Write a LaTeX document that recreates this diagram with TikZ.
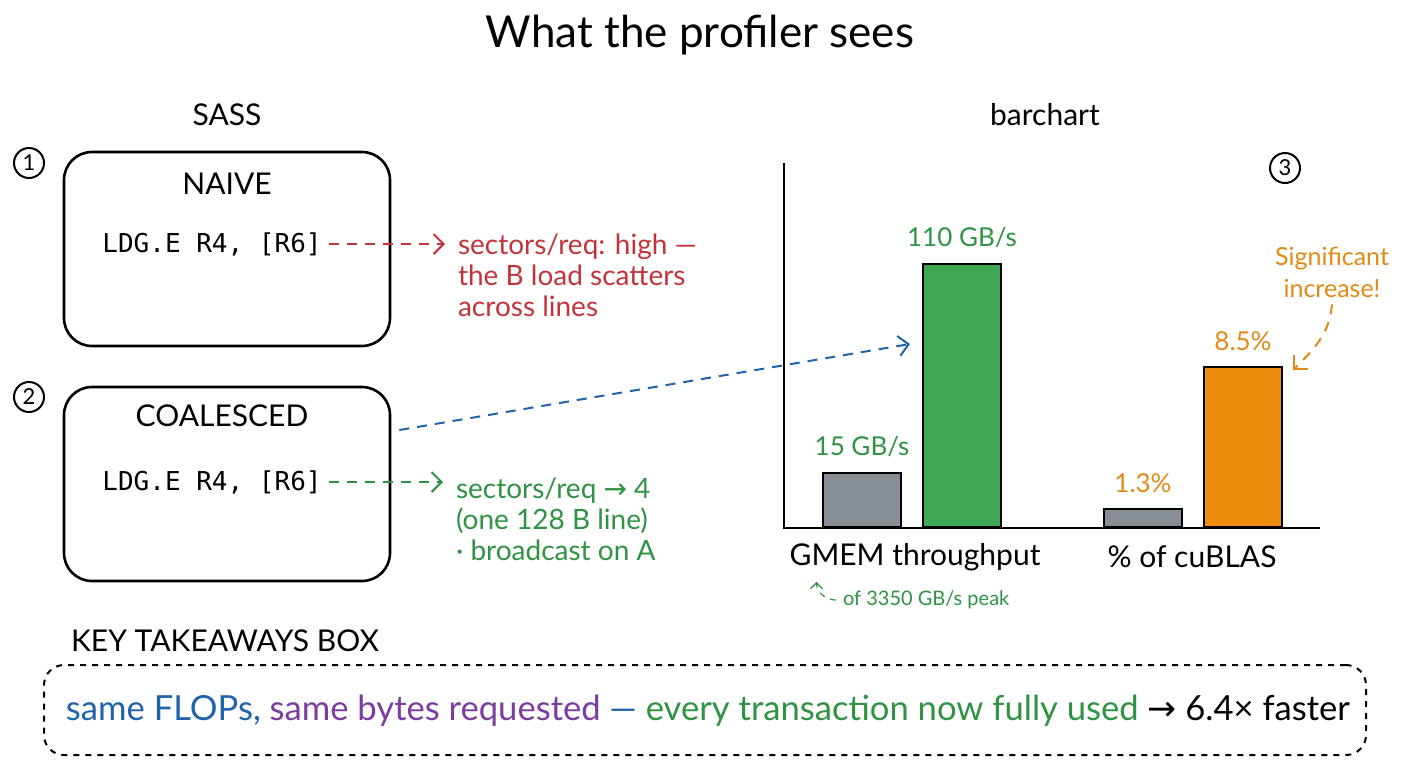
\documentclass[tikz,border=0pt]{standalone}
\usepackage{fontspec}
\setmainfont{Lato}
\setmonofont{DejaVu Sans Mono}
\newfontfamily\arrowfont{DejaVu Sans}
\usepackage{xcolor}
\usepackage{tikz}
\usetikzlibrary{arrows.meta,positioning,calc}
\definecolor{inkred}{HTML}{C3343A}
\definecolor{inkgreen}{HTML}{2F9343}
\definecolor{inkblue}{HTML}{2163AB}
\definecolor{inkpurple}{HTML}{7B3D9E}
\definecolor{inkorange}{HTML}{E38A16}
\definecolor{bargreen}{HTML}{3FA855}
\definecolor{bargray}{HTML}{878E96}
\definecolor{barorange}{HTML}{F08C0E}
\newcommand{\toarrow}{{\arrowfont →}}

\begin{document}
\begin{tikzpicture}[x=0.5pt,y=-0.5pt,>={Straight Barb[length=5pt,width=10pt]},
  sassbox/.style={draw,line width=1.3pt,rounded corners=14pt,minimum width=163pt,minimum height=97pt},
  stepnum/.style={draw,circle,line width=1pt,minimum size=15pt,inner sep=0pt,font=\fontsize{11}{13}\selectfont},
  heading/.style={font=\fontsize{15}{18}\selectfont},
  code/.style={font=\ttfamily\fontsize{13}{16}\selectfont},
  note/.style={align=left,anchor=west,font=\fontsize{14}{15.5}\selectfont},
  bar/.style={draw,line width=1pt,anchor=south,minimum width=39pt},
  barlabel/.style={font=\fontsize{13}{16}\selectfont},
  flow/.style={->,dash pattern=on 5pt off 4pt,line width=1pt}]
  \fill[white] (0,0) rectangle (1408,768);
  \useasboundingbox (0,0) rectangle (1408,768);

  \node[font=\fontsize{22}{26}\selectfont] (title) at (700,35) {What the profiler sees};
  \node[heading] (sass) at (227,115) {SASS};
  \node[heading] (chart) at (1045,115) {barchart};

  \node[stepnum] (one) at (29,163) {1};
  \node[stepnum] (two) at (29,397) {2};
  \node[stepnum] (three) at (1285,168) {3};

  % SASS listings
  \node[sassbox] (naive) at (227,249) {};
  \node[heading] (naivename) at (227,184) {NAIVE};
  \node[code] (ldgnaive) at (212,244) {LDG.E R4, [R6]};
  \node[note,text=inkred] (scatter) at (451,275) {sectors/req: high —\\the B load scatters\\across lines};

  \node[sassbox] (coal) at (227,484) {};
  \node[heading] (coalname) at (222,416) {COALESCED};
  \node[code] (ldgcoal) at (212,482) {LDG.E R4, [R6]};
  \node[note,text=inkgreen] (sectors) at (449,519) {sectors/req \toarrow{} 4\\(one 128 B line)\\· broadcast on A};

  \draw[flow,inkred] (ldgnaive.east) -- ([xshift=-3pt]scatter.west |- ldgnaive.east);
  \draw[flow,inkgreen] (ldgcoal.east) -- ([xshift=-3pt]sectors.west |- ldgcoal.east);

  % bar chart
  \coordinate (origin) at (784,528);
  \draw[line width=0.9pt] (784,163) -- (origin) -- (1320,528);
  \node[bar,fill=bargray,minimum height=27pt] (b1) at (862,528) {};
  \node[bar,fill=bargreen,minimum height=131.5pt] (b2) at (962,528) {};
  \node[bar,fill=bargray,minimum height=9pt] (b3) at (1143,528) {};
  \node[bar,fill=barorange,minimum height=80pt] (b4) at (1243,528) {};

  \node[barlabel,text=inkgreen,above=4pt of b1] (b1val) {15 GB/s};
  \node[barlabel,text=inkgreen,above=4pt of b2] (b2val) {110 GB/s};
  \node[barlabel,text=inkorange,above=4pt of b3] (b3val) {1.3\%};
  \node[barlabel,text=inkorange,above=4pt of b4] (b4val) {8.5\%};

  \node[heading] (gmem) at (915,557) {GMEM throughput};
  \node[heading] (cublas) at (1192,557) {\% of cuBLAS};
  \node[font=\fontsize{10}{12}\selectfont,text=inkgreen,anchor=west] (peak) at (836,600) {of 3350 GB/s peak};
  \draw[->,dashed,inkgreen,line width=0.6pt,>={Straight Barb[length=3pt,width=6pt]}] (peak.west) to[out=180,in=-90] ([xshift=17pt,yshift=-2pt]gmem.south west);

  \node[text=inkorange,align=center,font=\fontsize{12.5}{16}\selectfont] (signif) at (1332,272) {Significant\\increase!};
  \draw[flow,inkorange] (signif.south) to[out=-95,in=45] ([xshift=5pt,yshift=-2pt]b4.north east);

  \coordinate (gmemtip) at (910,344);
  \draw[flow,inkblue] ([xshift=4pt,yshift=27pt]coal.east) -- (gmemtip);

  % takeaways
  \node[heading,anchor=west] (keyhead) at (64,641) {KEY TAKEAWAYS BOX};
  \node[draw,dashed,line width=1pt,rounded corners=10pt,minimum width=661pt,minimum height=45pt] (keybox) at (705,710) {};
  \node[font=\fontsize{17.3}{20}\selectfont] (keytext) at (708,711) {\textcolor{inkblue}{same FLOPs,} \textcolor{inkpurple}{same bytes requested} \textcolor{inkblue}{—} \textcolor{inkgreen}{every transaction now fully used} \toarrow{} 6.4× faster};
\end{tikzpicture}
\end{document}
